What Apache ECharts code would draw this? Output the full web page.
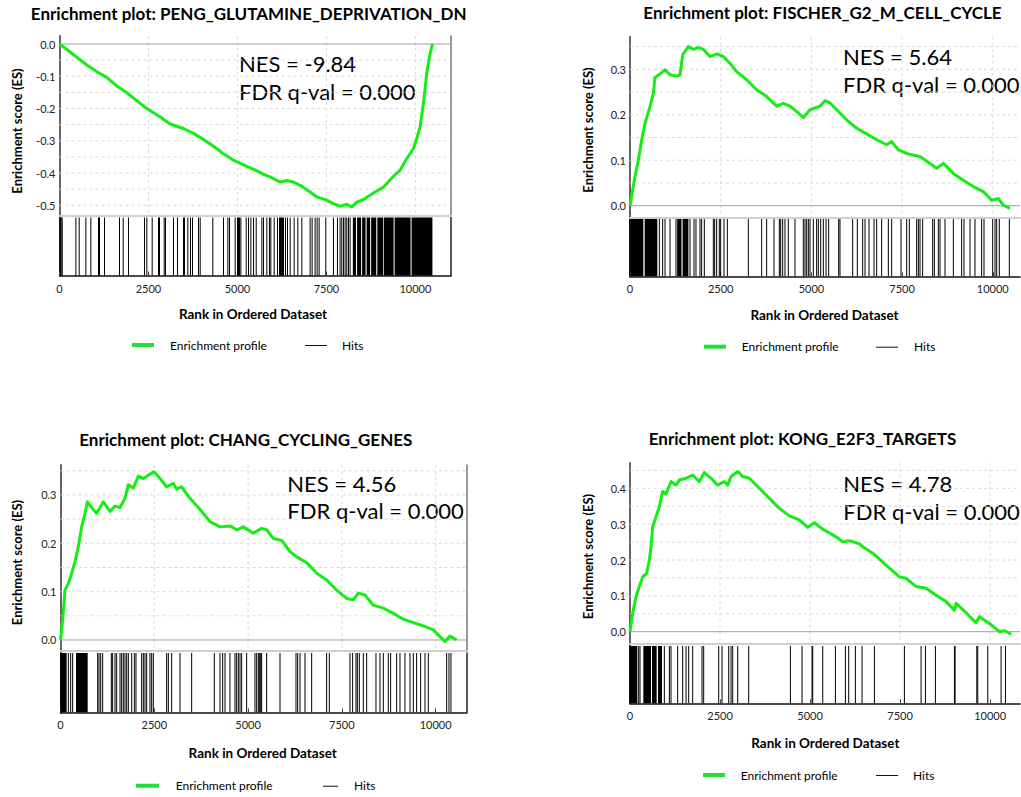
<!DOCTYPE html>
<html><head><meta charset="utf-8">
<script src="https://cdn.jsdelivr.net/npm/echarts@6/dist/echarts.min.js"></script>
<style>html,body{margin:0;padding:0;background:#fff}#c{width:1021px;height:797px}</style>
</head><body><div id="c"></div>
<script>
// ---------- data ----------
const titles = ['Enrichment plot: PENG_GLUTAMINE_DEPRIVATION_DN','Enrichment plot: FISCHER_G2_M_CELL_CYCLE','Enrichment plot: CHANG_CYCLING_GENES','Enrichment plot: KONG_E2F3_TARGETS'];
const nesTexts = ['NES = -9.84','NES = 5.64','NES = 4.56','NES = 4.78'];
const fdrTexts = ['FDR q-val = 0.000','FDR q-val = 0.000','FDR q-val = 0.000','FDR q-val = 0.000'];
const yAxisName = 'Enrichment score (ES)';
const xAxisName = 'Rank in Ordered Dataset';
const legendNames = ['Enrichment profile','Hits'];
const xTicks = [0,2500,5000,7500,10000];
const xGrid = [2500,5000,7500,10000];
const zeroLine = [0];

const p1Rank = [0,207,488,769,1050,1330,1611,1892,2266,2454,2828,3109,3484,3765,4046,4327,4608,4889,5263,5544,5731,5919,6200,6387,6574,6761,7042,7229,7510,7697,7884,8072,8212,8353,8540,8821,9102,9383,9570,9757,9945,10038,10132,10226,10319,10413,10479];
const p1ES = [0,-0.017,-0.041,-0.065,-0.086,-0.104,-0.130,-0.151,-0.184,-0.200,-0.226,-0.248,-0.262,-0.277,-0.296,-0.317,-0.340,-0.360,-0.379,-0.393,-0.404,-0.412,-0.428,-0.423,-0.428,-0.438,-0.459,-0.474,-0.484,-0.495,-0.503,-0.497,-0.505,-0.490,-0.482,-0.462,-0.443,-0.410,-0.391,-0.355,-0.324,-0.293,-0.257,-0.184,-0.091,-0.029,0];
const p1Hits = [48,76,460,553,741,881,1096,1124,1265,1686,1789,1938,2389,2454,2604,2782,2810,2941,2978,3203,3315,3484,3512,3606,3681,3737,3906,3953,4308,4608,4730,4777,4936,5002,5030,5058,5096,5246,5311,5377,5452,5527,5686,5733,5826,5901,5938,6032,6126,6182,6210,6238,6266,6294,6350,6406,6481,6593,6696,6809,7042,7098,7182,7239,7295,7482,7697,7810,7884,7931,7978,8025,8072,8119,8165];
const p1Blocks = [[8242,8330],[8360,8475],[8503,8600],[8630,8728],[8756,8900],[8930,9093],[9112,9388],[9416,9865],[9893,10478]];
const p1YTicks = [0,-0.1,-0.2,-0.3,-0.4,-0.5];
const p1YGrid = [-0.05,-0.1,-0.15,-0.2,-0.25,-0.3,-0.35,-0.4,-0.45,-0.5];

const p2Rank = [0,138,230,322,413,551,643,689,827,965,1103,1286,1378,1452,1608,1746,1884,2021,2205,2389,2573,2756,2940,3216,3491,3767,4043,4226,4410,4594,4778,4962,5237,5375,5513,5697,5972,6248,6523,6799,7075,7213,7396,7626,7994,8269,8453,8637,8912,9188,9464,9739,9969,10153,10291,10474];
const p2ES = [0,0.064,0.100,0.145,0.181,0.218,0.247,0.282,0.290,0.299,0.288,0.285,0.288,0.332,0.350,0.344,0.348,0.344,0.328,0.334,0.328,0.313,0.295,0.277,0.255,0.240,0.219,0.225,0.219,0.207,0.194,0.211,0.219,0.231,0.226,0.211,0.189,0.170,0.158,0.145,0.134,0.141,0.123,0.115,0.108,0.093,0.082,0.093,0.071,0.056,0.042,0.031,0.012,0.016,0.001,-0.006];
const p2Hits = [809,900,965,1103,1268,1654,1764,1819,1929,1975,2049,2297,2334,2389,2462,2499,2591,2683,3262,3629,3767,3969,4116,4153,4208,4272,4364,4548,4778,4824,4870,4916,4962,5053,5145,5191,5256,5329,5403,5476,5752,5788,6138,6266,6413,6478,6588,6726,6799,6937,7121,7213,7470,7626,7699,7902,7948,7994,8067,8343,8389,8499,8545,8683,8913,9142,9206,9372,9510,9693,9758,9997,10061,10107,10180,10456];
const p2Blocks = [[20,368],[404,753],[1300,1420],[1450,1610]];
const p2YTicks = [0,0.1,0.2,0.3];
const p2YGrid = [0.05,0.1,0.15,0.2,0.25,0.3,0.35];

const p3Rank = [0,58,120,209,298,387,475,564,653,715,831,964,1142,1319,1453,1586,1719,1808,1941,2074,2208,2341,2492,2652,2830,3007,3096,3230,3452,3718,3985,4251,4518,4696,4873,5140,5362,5495,5673,5895,6117,6295,6561,6828,7094,7361,7627,7805,7938,8116,8338,8605,8871,9138,9404,9671,9937,10115,10248,10382,10559];
const p3ES = [0,0.041,0.103,0.117,0.138,0.162,0.193,0.234,0.262,0.286,0.274,0.262,0.286,0.266,0.277,0.274,0.293,0.321,0.314,0.339,0.334,0.341,0.348,0.334,0.317,0.324,0.312,0.317,0.293,0.270,0.245,0.234,0.236,0.228,0.234,0.221,0.231,0.228,0.210,0.206,0.183,0.172,0.160,0.138,0.124,0.103,0.086,0.083,0.097,0.093,0.072,0.066,0.055,0.043,0.036,0.029,0.021,0.007,-0.003,0.008,0];
const p3Hits = [209,271,324,991,1026,1071,1124,1355,1390,1453,1497,1586,1630,1675,1719,1764,1808,1897,1968,2012,2163,2208,2252,2297,2385,2430,2474,2830,2874,2963,3185,3496,4100,4251,4323,4385,4518,4651,4696,4740,4785,4829,4962,5184,5229,5273,5300,5335,5362,5495,5851,6277,6322,6384,6517,6695,7094,7166,7716,7787,7876,7912,7965,8072,8160,8409,8516,8605,8738,8800,8960,9049,9182,9316,9404,9493,9600,9716,9804,10293,10355,10408];
const p3Blocks = [[4,164],[413,724]];
const p3YTicks = [0,0.1,0.2,0.3];
const p3YGrid = [0.05,0.1,0.15,0.2,0.25,0.3,0.35];

const p4Rank = [0,74,167,259,352,463,537,583,630,722,815,907,1000,1139,1278,1370,1556,1741,1926,2065,2250,2435,2620,2713,2806,2991,3130,3315,3593,3870,4148,4426,4704,4935,5120,5352,5722,5907,6093,6370,6463,6741,7111,7481,7667,7944,8222,8500,8778,9009,9056,9333,9611,9704,9981,10259,10398,10583];
const p4ES = [0,0.051,0.098,0.126,0.153,0.163,0.200,0.237,0.293,0.321,0.349,0.391,0.384,0.419,0.409,0.423,0.428,0.437,0.419,0.444,0.428,0.409,0.419,0.409,0.433,0.447,0.433,0.428,0.400,0.372,0.344,0.323,0.312,0.291,0.304,0.286,0.265,0.251,0.254,0.245,0.237,0.219,0.186,0.153,0.149,0.126,0.121,0.102,0.084,0.060,0.079,0.053,0.025,0.042,0.023,0,0.003,-0.007];
const p4Hits = [241,278,954,1093,1139,1324,1463,1556,1630,1741,2000,2046,2463,2556,2741,2806,2852,2991,3296,4454,4778,5055,5074,5352,5704,5981,6074,6259,6444,6787,7620,8083,8204,8481,9009,9028,9630,9657,9935,10305,10426];
const p4Blocks = [[0,204],[370,583],[611,741],[778,889]];
const p4YTicks = [0,0.1,0.2,0.3,0.4];
const p4YGrid = [0.05,0.1,0.15,0.2,0.25,0.3,0.35,0.4,0.45];

// ---------- layout (positions / styles) ----------
const layouts = [
  {left:59.5, width:391.5, xMax:11000, uTop:36, uBot:215.3, hTop:217.5, hBot:275.5, yMin:-0.531, yMax:0.0248, right:true,
   title:[248.7,13], nes:[239,63], fdr:[239,91], yname:[16.7,131], xname:[253,314], leg:{y:345, g:[132,154], t1:170, h:[305,327], t2:342}},
  {left:630, width:390, xMax:10750, uTop:36.7, uBot:217.3, hTop:219, hBot:276.3, yMin:-0.0255, yMax:0.3717, right:false,
   title:[822.5,12.5], nes:[843,56.5], fdr:[843,84.5], yname:[588.3,130], xname:[824.5,315], leg:{y:346.7, g:[704,726], t1:741.7, h:[876,898], t2:914}},
  {left:60.5, width:406.3, xMax:10830, uTop:465, uBot:651, hTop:653, hBot:712.3, yMin:-0.0228, yMax:0.362, right:true,
   title:[245.8,439], nes:[287.3,483], fdr:[287.3,510.5], yname:[16.7,562.5], xname:[262.7,753], leg:{y:785.7, g:[136,159], t1:175.7, h:[323,338], t2:354}},
  {left:630, width:390, xMax:10830, uTop:463, uBot:644, hTop:646, hBot:703.3, yMin:-0.0343, yMax:0.4706, right:false,
   title:[802.5,438.5], nes:[843.3,483], fdr:[843.3,511.5], yname:[588,556.5], xname:[825.3,743], leg:{y:775, g:[703,725], t1:740.7, h:[876,898], t2:913}}
];

const panels = [
  {rank:p1Rank, es:p1ES, hits:p1Hits, blocks:p1Blocks, yTicks:p1YTicks, yGrid:p1YGrid},
  {rank:p2Rank, es:p2ES, hits:p2Hits, blocks:p2Blocks, yTicks:p2YTicks, yGrid:p2YGrid},
  {rank:p3Rank, es:p3ES, hits:p3Hits, blocks:p3Blocks, yTicks:p3YTicks, yGrid:p3YGrid},
  {rank:p4Rank, es:p4ES, hits:p4Hits, blocks:p4Blocks, yTicks:p4YTicks, yGrid:p4YGrid}
];

const FF = 'Lato, "Open Sans", "DejaVu Sans", sans-serif';
const grids = [], xAxes = [], yAxes = [], series = [], graphics = [];

function txt(x, y, text, font, align, rot) {
  const el = {type:'text', x:x, y:y, silent:true,
    style:{text:text, font:font, fill:'#000', align:align||'left', textAlign:align||'left', verticalAlign:'middle', textVerticalAlign:'middle'}};
  if (rot) el.rotation = rot;
  return el;
}

function hLineSeries(xi, yi, vals, stroke, dash, z) {
  return {type:'custom', xAxisIndex:xi, yAxisIndex:yi, animation:false, silent:true, z:z,
    data:vals.map(v => [0, v]),
    renderItem:(params, api) => {
      const y = api.coord([0, api.value(1)])[1];
      const cs = params.coordSys;
      return {type:'line', shape:{x1:cs.x, y1:y, x2:cs.x + cs.width, y2:y}, style:{stroke:stroke, lineWidth:1, lineDash:dash}};
    }};
}
function vLineSeries(xi, yi, vals, stroke, dash, z) {
  return {type:'custom', xAxisIndex:xi, yAxisIndex:yi, animation:false, silent:true, z:z,
    data:vals.map(v => [v, 0]),
    renderItem:(params, api) => {
      const x = api.coord([api.value(0), 0])[0];
      const cs = params.coordSys;
      return {type:'line', shape:{x1:x, y1:cs.y, x2:x, y2:cs.y + cs.height}, style:{stroke:stroke, lineWidth:1, lineDash:dash}};
    }};
}

panels.forEach((p, i) => {
  const L = layouts[i];
  const gU = grids.length;
  grids.push({left:L.left, top:L.uTop, width:L.width, height:L.uBot - L.uTop});
  const gH = grids.length;
  grids.push({left:L.left, top:L.hTop, width:L.width, height:L.hBot - L.hTop});

  const xU = xAxes.length;
  xAxes.push({gridIndex:gU, type:'value', min:0, max:L.xMax, interval:2500,
    axisLabel:{show:false}, axisTick:{show:false}, splitLine:{show:false},
    axisLine:{show:true, onZero:false, lineStyle:{color:'#cfcfcf', width:2}}});
  const xH = xAxes.length;
  xAxes.push({gridIndex:gH, type:'value', min:0, max:L.xMax, interval:2500,
    axisLabel:{customValues:xTicks, formatter:v => String(v), margin:7, fontSize:11, color:'#222', fontFamily:FF},
    axisTick:{show:true, inside:true, length:4, customValues:xTicks, lineStyle:{color:'#444', width:1}},
    axisLine:{show:true, onZero:false, lineStyle:{color:'#111', width:1.5}}, splitLine:{show:false}});

  const yU = yAxes.length;
  yAxes.push({gridIndex:gU, type:'value', min:L.yMin, max:L.yMax,
    axisLine:{show:true, onZero:false, lineStyle:{color:'#666', width:2}}, axisTick:{show:false}, splitLine:{show:false},
    axisLabel:{customValues:p.yTicks, formatter:v => v.toFixed(1), fontSize:11, margin:4, color:'#222', fontFamily:FF}});
  const yH = yAxes.length;
  yAxes.push({gridIndex:gH, type:'value', min:0, max:1,
    axisLine:{show:true, onZero:false, lineStyle:{color:'#111', width:2}}, axisTick:{show:false}, axisLabel:{show:false}, splitLine:{show:false}});
  if (L.right) {
    yAxes.push({gridIndex:gU, type:'value', position:'right', min:L.yMin, max:L.yMax,
      axisLine:{show:true, onZero:false, lineStyle:{color:'#777', width:1.5}}, axisTick:{show:false}, axisLabel:{show:false}, splitLine:{show:false}});
    yAxes.push({gridIndex:gH, type:'value', position:'right', min:0, max:1,
      axisLine:{show:true, onZero:false, lineStyle:{color:'#222', width:1.5}}, axisTick:{show:false}, axisLabel:{show:false}, splitLine:{show:false}});
  }

  // grid lines
  series.push(hLineSeries(xU, yU, p.yGrid, '#dadada', [3, 3], 1));
  series.push(vLineSeries(xU, yU, xGrid, '#dadada', [3, 3], 1));
  series.push(hLineSeries(xU, yU, zeroLine, '#a0a0a0', null, 2));

  series.push({type:'line', name:legendNames[0], xAxisIndex:xU, yAxisIndex:yU, z:10,
    data:p.rank.map((x, k) => [x, p.es[k]]), showSymbol:false, symbol:'none', animation:false, silent:true,
    lineStyle:{color:'#14ee14', width:3, join:'round'}});

  series.push({type:'custom', name:legendNames[1], xAxisIndex:xH, yAxisIndex:yH, animation:false, silent:true, z:3,
    data:p.hits.map(v => [v, 0]),
    renderItem:(params, api) => {
      const x = api.coord([api.value(0), 0])[0];
      const cs = params.coordSys;
      return {type:'line', shape:{x1:x, y1:cs.y, x2:x, y2:cs.y + cs.height}, style:{stroke:'#000', lineWidth:1}};
    }});
  series.push({type:'custom', name:legendNames[1], xAxisIndex:xH, yAxisIndex:yH, animation:false, silent:true, z:3,
    data:p.blocks,
    renderItem:(params, api) => {
      const x1 = api.coord([api.value(0), 0])[0];
      const x2 = api.coord([api.value(1), 0])[0];
      const cs = params.coordSys;
      return {type:'rect', shape:{x:x1, y:cs.y, width:Math.max(1, x2 - x1), height:cs.height}, style:{fill:'#000'}};
    }});

  graphics.push(txt(L.title[0], L.title[1], titles[i], 'bold 17px ' + FF, 'center'));
  graphics.push(txt(L.nes[0], L.nes[1], nesTexts[i], '22px ' + FF, 'left'));
  graphics.push(txt(L.fdr[0], L.fdr[1], fdrTexts[i], '22px ' + FF, 'left'));
  graphics.push(txt(L.yname[0], L.yname[1], yAxisName, 'bold 13px ' + FF, 'center', Math.PI / 2));
  graphics.push(txt(L.xname[0], L.xname[1], xAxisName, 'bold 13.5px ' + FF, 'center'));
  const lg = L.leg;
  graphics.push({type:'line', silent:true, shape:{x1:lg.g[0], y1:lg.y, x2:lg.g[1], y2:lg.y}, style:{stroke:'#22dd3a', lineWidth:4}});
  graphics.push(txt(lg.t1, lg.y, legendNames[0], '12px ' + FF, 'left'));
  graphics.push({type:'line', silent:true, shape:{x1:lg.h[0], y1:lg.y + 0.5, x2:lg.h[1], y2:lg.y + 0.5}, style:{stroke:'#111', lineWidth:1}});
  graphics.push(txt(lg.t2, lg.y, legendNames[1], '12px ' + FF, 'left'));
});

const chart = echarts.init(document.getElementById('c'), null, {renderer:'svg', width:1021, height:797});
chart.setOption({
  backgroundColor:'#ffffff', animation:false,
  grid:grids, xAxis:xAxes, yAxis:yAxes, series:series,
  graphic:{elements:graphics}
});
</script></body></html>
